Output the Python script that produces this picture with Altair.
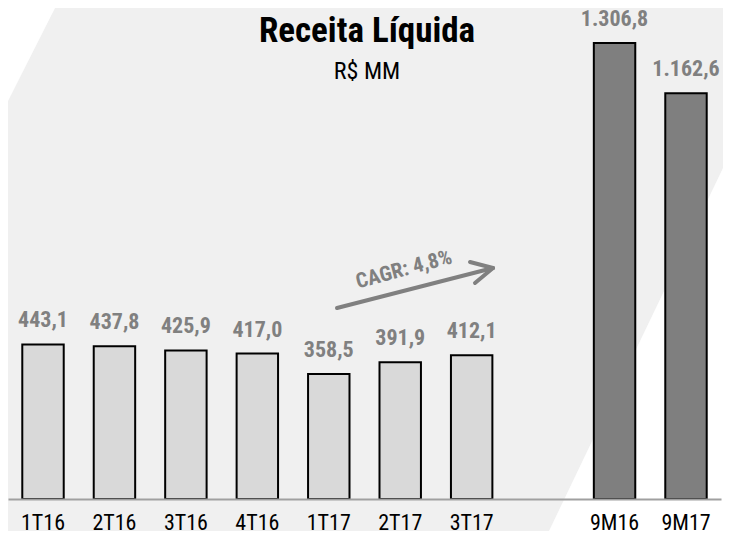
import altair as alt
import pandas as pd

# ---- data ----
categories = ["1T16", "2T16", "3T16", "4T16", "1T17", "2T17", "3T17", "9M16", "9M17"]
values = [443.1, 437.8, 425.9, 417.0, 358.5, 391.9, 412.1, 1306.8, 1162.6]
groups = ["Trimestral"] * 7 + ["Acumulado"] * 2
x_order = ["1T16", "2T16", "3T16", "4T16", "1T17", "2T17", "3T17", " ", "9M16", "9M17"]

title_text = "Receita Líquida"
subtitle_text = "R$ MM"
cagr_text = "CAGR: 4,8%"


def br(v):
    return f"{v:,.1f}".replace(",", "X").replace(".", ",").replace("X", ".")


df = pd.DataFrame({
    "cat": categories,
    "val": values,
    "grp": groups,
    "lbl": [br(v) for v in values],
})

FONT = "'Roboto Condensed', 'Liberation Sans Narrow', 'DejaVu Sans Condensed', Roboto, sans-serif"
W, H = 713, 491

x = alt.X("cat:N", sort=x_order, scale=alt.Scale(domain=x_order, paddingInner=0.42, paddingOuter=0.2),
          axis=alt.Axis(title=None, labelAngle=0, ticks=False, tickSize=0, labelPadding=30,
                        labelBaseline="alphabetic", labelFont=FONT, labelFontSize=22,
                        labelFontWeight="normal",
                        labelColor="#000000", domainColor="#a0a0a0", domainWidth=2, zindex=1))
y = alt.Y("val:Q", scale=alt.Scale(domain=[0, 1407.2], nice=False), axis=None)

bars = alt.Chart(df).mark_bar(stroke="black", strokeWidth=2).encode(
    x=x, y=y,
    color=alt.Color("grp:N", scale=alt.Scale(domain=["Trimestral", "Acumulado"],
                                              range=["#d9d9d9", "#7f7f7f"]), legend=None),
)
labels = alt.Chart(df).mark_text(font=FONT, fontSize=22, fontWeight="bold", color="#808080",
                                 baseline="alphabetic", dy=-17).encode(
    x=x, y=y, text="lbl:N")
main = alt.layer(bars, labels)

# decorative background triangles (pixel space)
tri_left = pd.DataFrame({"px": [0, 47], "py": [0, 0], "py2": [93, 0]})
tri_right = pd.DataFrame({"px": [541, 715], "py": [523, 160], "py2": [523, 523]})
bg_left = alt.Chart(tri_left).mark_area(color="white").encode(
    x=alt.X("px:Q", scale=None, axis=None), y=alt.Y("py:Q", scale=None, axis=None), y2="py2:Q")
bg_right = alt.Chart(tri_right).mark_area(color="white").encode(
    x=alt.X("px:Q", scale=None, axis=None), y=alt.Y("py:Q", scale=None, axis=None), y2="py2:Q")

one = pd.DataFrame({"k": [0]})
title = alt.Chart(one).mark_text(font=FONT, fontSize=35, fontWeight="bold", color="black",
                                 baseline="alphabetic", align="center").encode(
    x=alt.value(359), y=alt.value(34), text=alt.value(title_text))
subtitle = alt.Chart(one).mark_text(font=FONT, fontSize=24, color="black",
                                    baseline="alphabetic", align="center").encode(
    x=alt.value(359), y=alt.value(71), text=alt.value(subtitle_text))

arrow = alt.Chart(one).mark_rule(color="#808080", strokeWidth=4, strokeCap="round").encode(
    x=alt.value(329), y=alt.value(300), x2=alt.value(485), y2=alt.value(260))
head1 = alt.Chart(one).mark_rule(color="#808080", strokeWidth=4, strokeCap="round").encode(
    x=alt.value(462), y=alt.value(254), x2=alt.value(485), y2=alt.value(260))
head2 = alt.Chart(one).mark_rule(color="#808080", strokeWidth=4, strokeCap="round").encode(
    x=alt.value(467), y=alt.value(275), x2=alt.value(485), y2=alt.value(260))
cagr = alt.Chart(one).mark_text(font=FONT, fontSize=21, fontWeight="bold", color="#808080",
                                align="center", baseline="middle", angle=345).encode(
    x=alt.value(396), y=alt.value(262), text=alt.value(cagr_text))

chart = alt.layer(bg_left, bg_right, main, title, subtitle, arrow, head1, head2, cagr).resolve_scale(
    x="independent", y="independent"
).properties(
    width=W, height=H,
    autosize=alt.AutoSizeParams(type="none"),
    padding={"left": 0, "top": 0, "right": 2, "bottom": 32},
).configure(background="#f0f0f0").configure_view(stroke=None)

chart.save("out.html", embed_options={"renderer": "svg", "actions": False})
